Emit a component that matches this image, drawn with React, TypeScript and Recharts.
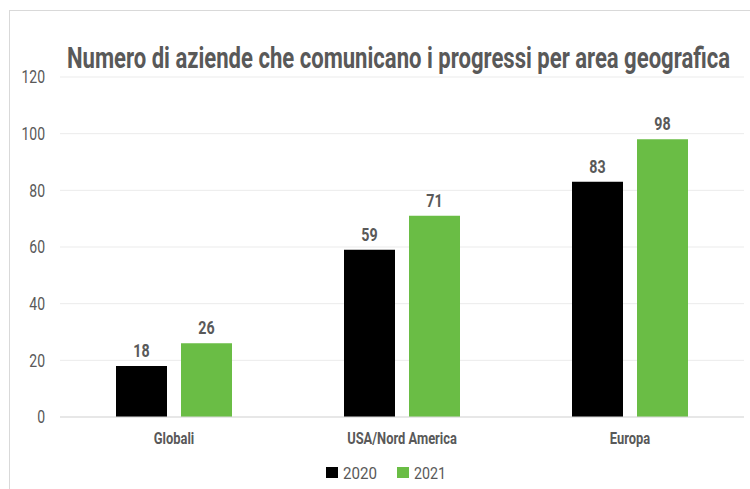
import React from "react";
import { BarChart, Bar, XAxis, YAxis, CartesianGrid, LabelList } from "recharts";

const regions = ["Globali", "USA/Nord America", "Europa"];
const values2020 = [18, 59, 83];
const values2021 = [26, 71, 98];
const yTicks = [0, 20, 40, 60, 80, 100, 120];
const seriesNames = ["2020", "2021"];

const data = regions.map((name, i) => ({
  name,
  y2020: values2020[i],
  y2021: values2021[i],
}));

const FONT = "Roboto, sans-serif";
const GRAY = "#595959";
const GREEN = "#6abd45";

// condensed look: Roboto squeezed horizontally
const YTick = (props: any) => {
  const { x, y, payload } = props;
  return (
    <text
      transform={`translate(${x},${y}) scale(0.8,1)`}
      textAnchor="end"
      dy="0.36em"
      fill={GRAY}
      fontSize={17.5}
      fontFamily={FONT}
    >
      {payload.value}
    </text>
  );
};

const XTick = (props: any) => {
  const { x, y, payload } = props;
  return (
    <text
      transform={`translate(${x},${y}) scale(0.76,1)`}
      textAnchor="middle"
      dy={21}
      fill={GRAY}
      fontSize={17}
      fontWeight="bold"
      fontFamily={FONT}
    >
      {payload.value}
    </text>
  );
};

const ValueLabel = (props: any) => {
  const { x, y, width, value } = props;
  return (
    <text
      transform={`translate(${x + width / 2},${y - 9}) scale(0.75,1)`}
      textAnchor="middle"
      fill={GRAY}
      fontSize={19}
      fontWeight="bold"
      fontFamily={FONT}
    >
      {value}
    </text>
  );
};

export default function App() {
  const colors = ["#000000", GREEN];
  return (
    <div style={{ position: "absolute", left: 0, top: 0, width: 750, height: 489, background: "#fff", overflow: "hidden" }}>
      <div
        style={{
          position: "absolute",
          left: 9,
          top: 10,
          width: 760,
          height: 490,
          border: "1px solid #d9d9d9",
        }}
      />
      <svg width={750} height={100} style={{ position: "absolute", left: 0, top: 0 }}>
        <text
          transform="translate(67,68) scale(0.75,1)"
          textLength={884}
          lengthAdjust="spacingAndGlyphs"
          fontSize={30}
          fontWeight="bold"
          fontFamily={FONT}
          fill={GRAY}
        >
          Numero di aziende che comunicano i progressi per area geografica
        </text>
      </svg>
      <div style={{ position: "absolute", left: 0, top: 0 }}>
        <BarChart
          width={750}
          height={489}
          data={data}
          margin={{ top: 77, right: 6, bottom: 42, left: 0 }}
          barSize={51}
          barGap={14}
        >
          <CartesianGrid vertical={false} stroke="#ebebeb" />
          <XAxis
            dataKey="name"
            axisLine={{ stroke: "#d9d9d9" }}
            tickLine={false}
            tickMargin={0}
            height={30}
            tick={<XTick />}
          />
          <YAxis
            domain={[0, 120]}
            ticks={yTicks}
            axisLine={false}
            tickLine={false}
            tickMargin={9}
            width={60}
            tick={<YTick />}
          />
          <Bar dataKey="y2020" fill="#000000" isAnimationActive={false}>
            <LabelList dataKey="y2020" content={<ValueLabel />} />
          </Bar>
          <Bar dataKey="y2021" fill={GREEN} isAnimationActive={false}>
            <LabelList dataKey="y2021" content={<ValueLabel />} />
          </Bar>
        </BarChart>
      </div>
      <svg width={750} height={40} style={{ position: "absolute", left: 0, top: 455 }}>
        {seriesNames.map((name, i) => (
          <g key={name} transform={`translate(${326 + i * 71},0)`}>
            <rect x={0} y={12} width={12} height={11} fill={colors[i]} />
            <text
              x={17}
              y={24}
              textLength={i === 0 ? 34 : 32}
              lengthAdjust="spacingAndGlyphs"
              fontSize={17}
              fontFamily={FONT}
              fill={GRAY}
            >
              {name}
            </text>
          </g>
        ))}
      </svg>
    </div>
  );
}
